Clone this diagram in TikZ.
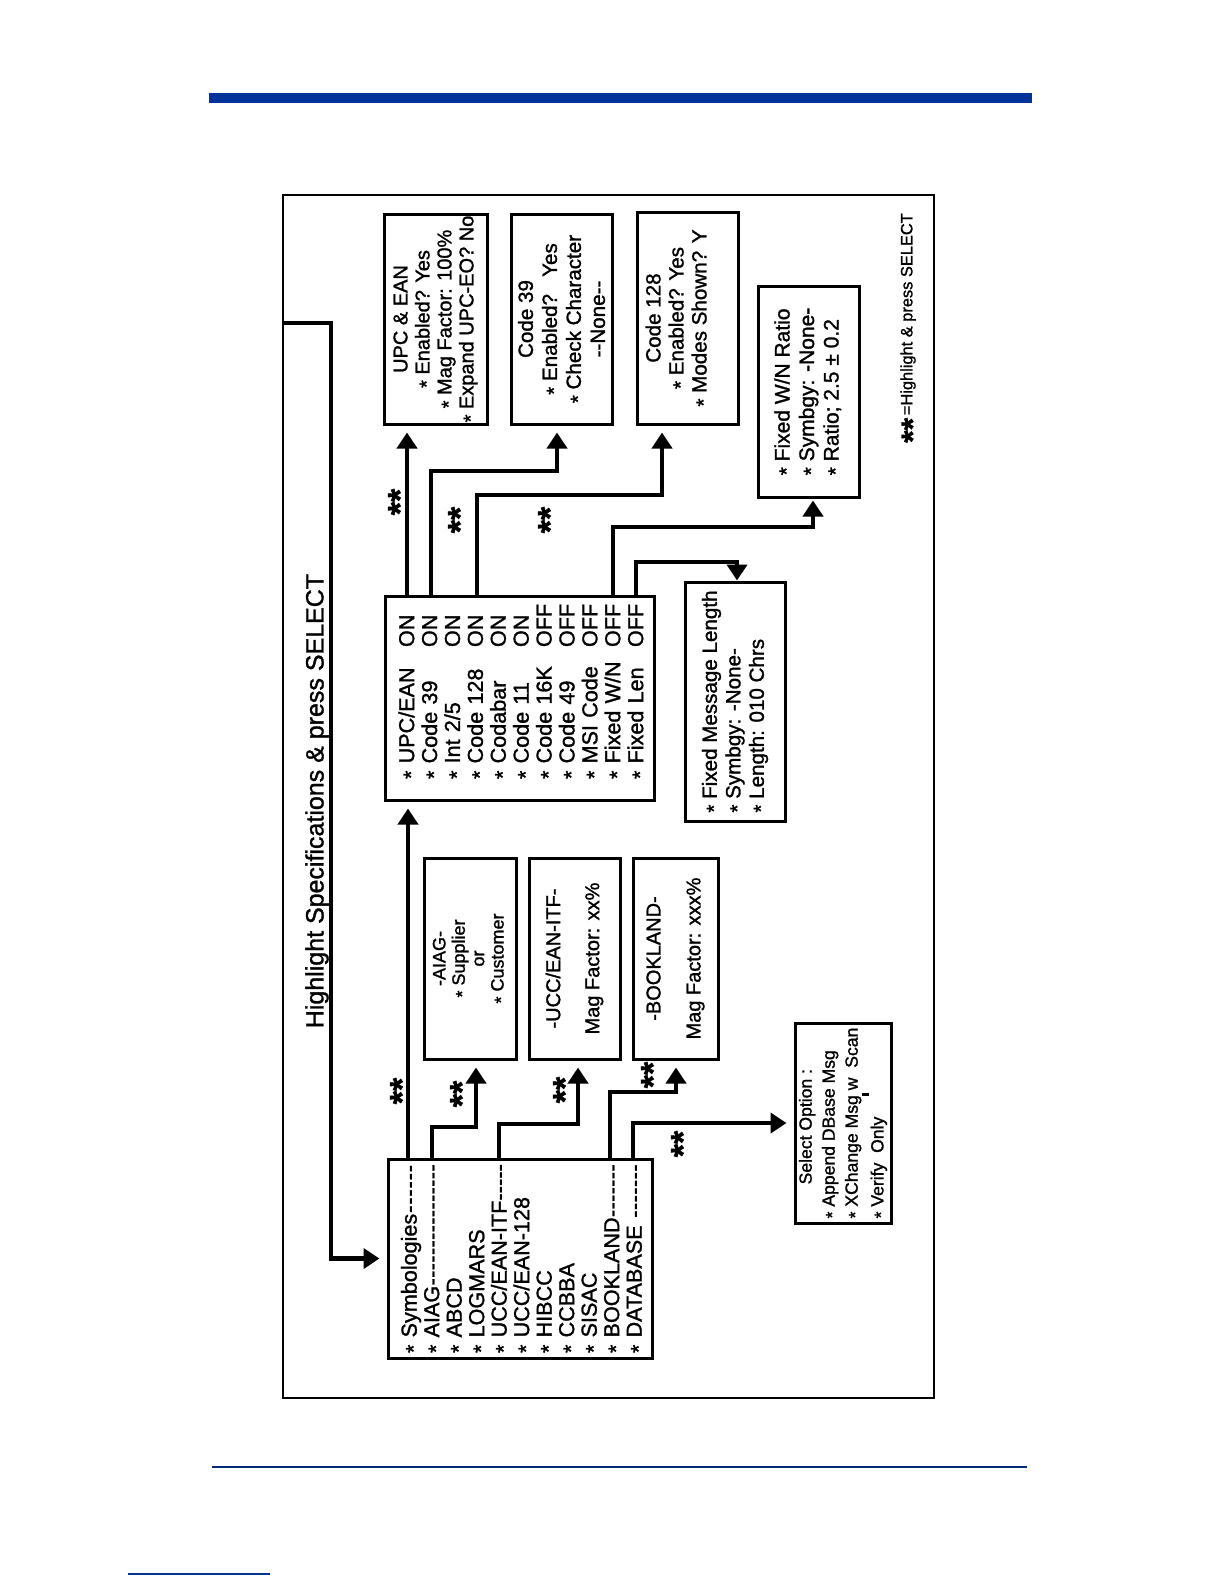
\documentclass[tikz,border=0pt]{standalone}
\usepackage{fontspec}
\setmainfont{Liberation Sans}[RawFeature={embolden=1.3}]
\usetikzlibrary{arrows.meta}
\definecolor{hhpblue}{RGB}{0,51,153}
\newcommand\st{\raisebox{-.2em}{*}}
\newcommand\lead{\xleaders\hbox{-}\hfill\null}
\newcommand\fs[2]{\fontsize{#1}{#2}\selectfont}
\newcommand\starpair{\smash{\raisebox{-.575em}{**}}}
\newcommand\mrow[2]{\makebox[66pt][l]{\st\ #1}#2}
\newcommand\smark{\raisebox{-5.5pt}{\rule{1.5pt}{3.5pt}}}
\newcommand\tstrut{\rule{0pt}{11.3pt}}
\begin{document}
\begin{tikzpicture}[x=0.5pt,y=-0.5pt,
  box/.style={draw, line width=1.5pt, rotate=90, inner sep=0pt},
  conn/.style={line width=2.2pt, -{Triangle[length=8pt,width=10pt]}, shorten >=3.5pt},
  lbl/.style={rotate=90, font=\fs{17}{17}\bfseries, inner sep=0pt}]
\useasboundingbox (0,0) rectangle (1224,1584);
% page decorations
\fill[hhpblue] (209,93) rectangle (1032,103);
\draw[hhpblue!80!black, line width=1pt] (212,1467) -- (1027,1467);
\draw[hhpblue, line width=0.6pt] (128,1574) -- (270,1574);
% frame
\node[draw, line width=1.2pt, minimum width=325.5pt, minimum height=601.5pt, inner sep=0pt] (frame) at (608.5,796.5) {};
\node[rotate=90, font=\fs{12.5}{14}] (head) at (317,801) {Highlight Specifications \& press SELECT};
% boxes
\node[box, minimum width=99.5pt, minimum height=132pt, inner xsep=2.5pt, text width=94.5pt, align=left, font=\fs{10.8}{11.25}] (symb) at (520,1258.5)
 {\tstrut\st\ Symbologies\lead\\ \st\ AIAG\lead\\ \st\ ABCD\\ \st\ LOGMARS\\ \st\ UCC/EAN-ITF\lead\\ \st\ UCC/EAN-128\\ \st\ HIBCC\\ \st\ CCBBA\\ \st\ SISAC\\ \st\ BOOKLAND\lead\\ \st\ DATABASE\ \lead};
\node[box, minimum width=102pt, minimum height=134.5pt, inner xsep=10.5pt, text width=81pt, align=left, font=\fs{10.8}{11.45}] (main) at (519.5,698)
 {\tstrut\mrow{UPC/EAN}{ON}\\ \mrow{Code 39}{ON}\\ \mrow{Int 2/5}{ON}\\ \mrow{Code 128}{ON}\\ \mrow{Codabar}{ON}\\ \mrow{Code 11}{ON}\\ \mrow{Code 16K}{OFF}\\ \mrow{Code 49}{OFF}\\ \mrow{MSI Code}{OFF}\\ \mrow{Fixed W/N}{OFF}\\ \mrow{Fixed Len}{OFF}};
\node[box, minimum width=105pt, minimum height=51.5pt, align=center, font=\fs{10}{11}] (upc) at (435.5,319)
 {UPC \& EAN\\ \st\ Enabled? Yes\\ \st\ Mag Factor: 100\%\\ \st\ Expand UPC-EO? No};
\node[box, minimum width=105pt, minimum height=50.5pt, align=center, font=\fs{10.3}{12}] (c39) at (561.5,319)
 {Code 39\\ \st\ Enabled?\ \ \ Yes\\ \st\ Check Character\\ -{}-None-{}-};
\node[box, minimum width=106pt, minimum height=50.5pt, align=center, font=\fs{10.3}{11.5}] (c128) at (687.5,318)
 {Code 128\\ \st\ Enabled? Yes\\ \st\ Modes Shown? Y\\ \mbox{}};
\node[box, minimum width=105.5pt, minimum height=50.5pt, align=left, font=\fs{10.5}{12.25}] (fwn) at (808.5,391.5)
 {\st\ Fixed W/N Ratio\\ \st\ Symbgy: -None-\\ \st\ Ratio; 2.5 ± 0.2};
\node[box, minimum width=119.5pt, minimum height=50pt, align=left, font=\fs{10.3}{11.75}] (fml) at (735,701.5)
 {\st\ Fixed Message Length\\ \st\ Symbgy: -None-\\ \st\ Length: 010 Chrs};
\node[box, minimum width=100.5pt, minimum height=46pt, align=center, font=\fs{9}{9.7}] (aiag) at (470,958.5)
 {-AIAG-\\ \st\ Supplier\\ or\\ \st\ Customer};
\node[box, minimum width=100.5pt, minimum height=45.5pt, align=center, font=\fs{10}{10.5}] (ucc) at (574.5,958.5)
 {-UCC/EAN-ITF-\\[9pt] Mag Factor: xx\%};
\node[box, minimum width=100.5pt, minimum height=42.5pt, align=center, font=\fs{10}{10.5}] (book) at (675.5,958.5)
 {-BOOKLAND-\\[9.5pt] Mag Factor: xxx\%};
\node[box, minimum width=100pt, minimum height=48pt, align=left, font=\fs{8.8}{11.5}] (sel) at (843,1123)
 {\hspace*{17pt}Select Option :\\ \st\ Append DBase Msg\\ \st\ XChange Msg \llap{\smark\hspace{1.5pt}}w\ \ Scan\\ \st\ Verify\ \ Only};
% footnote
\node[rotate=90, font=\fs{8.2}{9}] (foot) at (912,328) {{\fs{16}{16}\bfseries\raisebox{-.35em}{**}}\,=Highlight \& press SELECT};
% helper coordinates
\coordinate (c0) at (331,323);
\coordinate (s1) at (408,0);
\coordinate (s2) at (432,0);  \coordinate (k2) at (476,1127);
\coordinate (s3) at (499,0);  \coordinate (k3) at (578,1124);
\coordinate (s4) at (610,0);  \coordinate (k4) at (676,1092);
\coordinate (s5) at (633,0);
\coordinate (m1) at (407,0);
\coordinate (m2) at (431,0);  \coordinate (k7) at (557,471);
\coordinate (m3) at (477,0);  \coordinate (k8) at (662,495);
\coordinate (m4) at (613,0);  \coordinate (k9) at (813,527);
\coordinate (m5) at (636,0);  \coordinate (k10) at (737,562);
% connectors
\draw[conn] (frame.west |- c0) -- (c0) |- (symb.north);
\draw[conn] (symb.east -| s1) -- (main.west -| s1);
\draw[conn] (symb.east -| s2) |- (k2) -- (k2 |- aiag.west);
\draw[conn] (symb.east -| s3) |- (k3) -- (k3 |- ucc.west);
\draw[conn] (symb.east -| s4) |- (k4) -- (k4 |- book.west);
\draw[conn] (symb.east -| s5) |- (sel.north);
\draw[conn] (main.east -| m1) -- (upc.west -| m1);
\draw[conn] (main.east -| m2) |- (k7) -- (k7 |- c39.west);
\draw[conn] (main.east -| m3) |- (k8) -- (k8 |- c128.west);
\draw[conn, shorten >=1pt] (main.east -| m4) |- (k9) -- (k9 |- fwn.west);
\draw[conn, shorten >=0pt] (main.east -| m5) |- (k10) -- (k10 |- fml.east);
% labels
\node[lbl] (l1) at (392,502) {\starpair};
\node[lbl] (l2) at (452,520) {\starpair};
\node[lbl] (l3) at (542,520) {\starpair};
\node[lbl] (l4) at (394,1091) {\starpair};
\node[lbl] (l5) at (454,1094) {\starpair};
\node[lbl] (l6) at (557,1090) {\starpair};
\node[lbl] (l7) at (645,1075) {\starpair};
\node[lbl] (l8) at (675,1144) {\starpair};
\end{tikzpicture}
\end{document}
